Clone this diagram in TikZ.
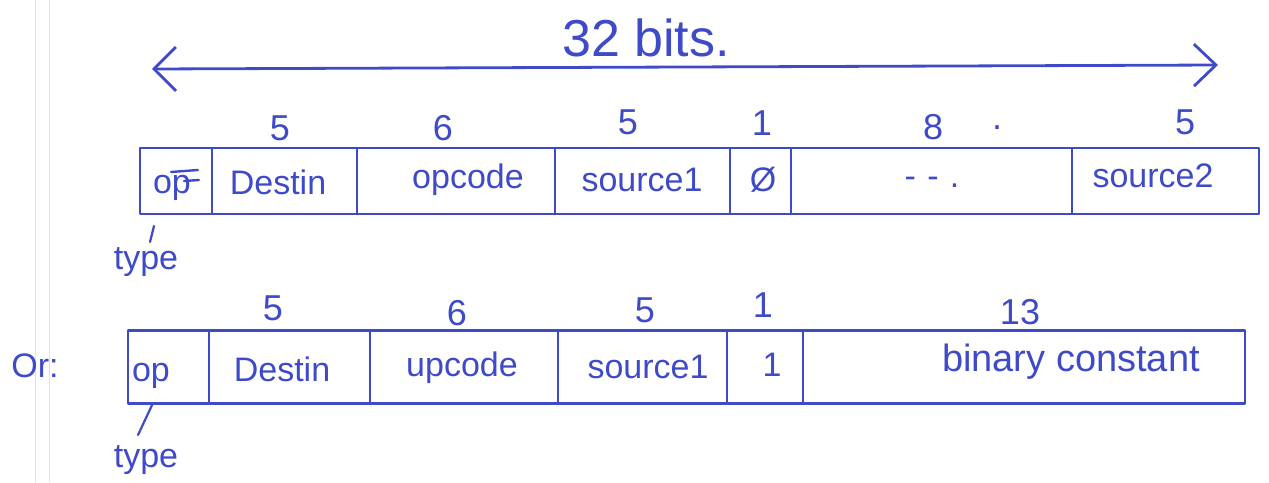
\documentclass[tikz,border=0pt]{standalone}
\usepackage{fontspec}
\setmainfont{Liberation Sans}
\usetikzlibrary{arrows.meta}
\definecolor{ink}{RGB}{62,74,200}
\definecolor{margin}{RGB}{245,215,225}
\begin{document}
\begin{tikzpicture}[x=1pt,y=-1pt,line width=2.8pt,line cap=round,line join=round,
  field/.style={draw=ink,inner sep=0pt,line width=2.8pt},
  row1/.style={field,minimum height=66pt},
  row2/.style={field,minimum height=73pt},
  lbl/.style={text=ink,inner sep=0pt,font=\fontsize{34}{40}\selectfont},
  num/.style={text=ink,inner sep=0pt,font=\fontsize{36}{42}\selectfont},
  tick/.style={draw=ink,line width=2.2pt}]
\useasboundingbox (0,0) rectangle (1269,482);
% notebook margin lines
\draw[margin,line width=1pt] (35,0) -- (35,482);
\draw[margin,line width=1pt] (49,0) -- (49,482);
% title and span arrow
\node[text=ink,inner sep=0pt,font=\fontsize{52}{60}\selectfont] (title) at (646,38) {32 bits.};
\coordinate (aL) at (152,69);
\coordinate (aR) at (1218,65);
\draw[ink,{Straight Barb[length=22pt,width=44pt]}-{Straight Barb[length=22pt,width=42pt]}] (aL) -- (aR);
% ---- row 1 ----
\node[row1,minimum width=72pt]  (r1a) at (176,181)    {};
\node[row1,minimum width=145pt] (r1b) at (284.5,181)  {};
\node[row1,minimum width=198pt] (r1c) at (456,181)    {};
\node[row1,minimum width=175pt] (r1d) at (642.5,181)  {};
\node[row1,minimum width=61pt]  (r1e) at (760.5,181)  {};
\node[row1,minimum width=281pt] (r1f) at (931.5,181)  {};
\node[row1,minimum width=187pt] (r1g) at (1165.5,181) {};
\node[lbl] (op1)   at (172,188)  {op};
\draw[ink,line width=2.4pt] (171,172) -- (198,170);
\draw[ink,line width=2.4pt] (184,181) -- (199,180);
\node[lbl] (dst1)  at (278,182)  {Destin};
\node[lbl] (opc1)  at (468,180)  {opcode};
\node[lbl] (src11) at (642,180)  {source1};
\node[lbl] (zero1) at (763,180)  {Ø};
\node[lbl] (dots1) at (932,182)  {-\,\,-\,\,.};
\node[lbl] (src21) at (1153,176) {source2};
\node[num] (n1a) at (280,128)  {5};
\node[num] (n1b) at (443,128)  {6};
\node[num] (n1c) at (628,122)  {5};
\node[num] (n1d) at (762,123)  {1};
\node[num] (n1e) at (933,127)  {8};
\node[num] (n1x) at (997,128)  {.};
\node[num] (n1f) at (1185,122) {5};
\coordinate (t1a) at (154,226);
\coordinate (t1b) at (150,242);
\draw[tick] (t1a) -- (t1b);
\node[lbl] (type1) at (146,262) {type};
% ---- row 2 ----
\node[row2,minimum width=81pt]  (r2a) at (168.5,367) {};
\node[row2,minimum width=161pt] (r2b) at (289.5,367) {};
\node[row2,minimum width=188pt] (r2c) at (464,367)   {};
\node[row2,minimum width=169pt] (r2d) at (642.5,367) {};
\node[row2,minimum width=76pt]  (r2e) at (765,367)   {};
\node[row2,minimum width=442pt] (r2f) at (1024,367)  {};
\node[lbl] (op2)   at (151,376)  {op};
\node[lbl] (dst2)  at (282,369)  {Destin};
\node[lbl] (opc2)  at (462,368)  {upcode};
\node[lbl] (src12) at (648,367)  {source1};
\node[lbl] (one2)  at (772,365)  {1};
\node[lbl,font=\fontsize{38}{44}\selectfont] (bin2) at (1071,362) {binary constant};
\node[num] (n2a) at (273,308)  {5};
\node[num] (n2b) at (457,313)  {6};
\node[num] (n2c) at (645,310)  {5};
\node[num] (n2d) at (763,305)  {1};
\node[num] (n2e) at (1020,312) {13};
\node[lbl] (or) at (35,366) {Or:};
\coordinate (t2a) at (153,403);
\coordinate (t2b) at (138,435);
\draw[tick] (t2a) -- (t2b);
\node[lbl] (type2) at (146,460) {type};
\end{tikzpicture}
\end{document}
